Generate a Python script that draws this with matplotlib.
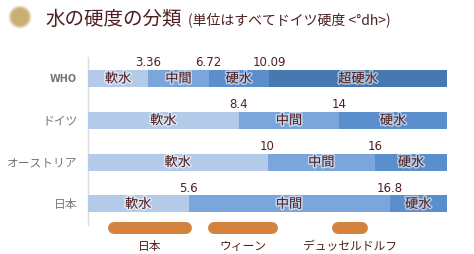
import matplotlib.pyplot as plt
import matplotlib.patheffects as pe
from matplotlib.patches import Circle

plt.rcParams['font.family'] = ['Noto Sans CJK JP', 'DejaVu Sans']

# データ(ドイツ硬度 °dh)
countries = ["WHO", "ドイツ", "オーストリア", "日本"]
breaks = [
    [3.36, 6.72, 10.09],
    [8.4, 14],
    [10, 16],
    [5.6, 16.8],
]
break_labels = [
    ["3.36", "6.72", "10.09"],
    ["8.4", "14"],
    ["10", "16"],
    ["5.6", "16.8"],
]
seg_names = [
    ["軟水", "中間", "硬水", "超硬水"],
    ["軟水", "中間", "硬水"],
    ["軟水", "中間", "硬水"],
    ["軟水", "中間", "硬水"],
]
x_max = 20

cities = ["日本", "ウィーン", "デュッセルドルフ"]
city_lo = [1.1, 6.7, 13.6]
city_hi = [5.8, 10.6, 15.6]

seg_colors = {"軟水": "#b3cbe9", "中間": "#7aa6dc", "硬水": "#5a8ecd", "超硬水": "#4678b2"}
text_col = "#4e1f22"
orange = "#d4823d"

W, H = 474, 255
fig = plt.figure(figsize=(W / 100, H / 100), dpi=100)

# axes: x 88..447 px, y 58..243 px
y_top, y_bot = -0.514, 3.9
row_px = 41.8
ax = fig.add_axes([88 / W, 1 - (58 + (y_bot - y_top) * row_px) / H,
                   (447 - 88) / W, (y_bot - y_top) * row_px / H])
ax.set_xlim(0, x_max)
ax.set_ylim(y_bot, y_top)
ax.axis("off")

ax.plot([0, 0], [y_top, 3.5], color="#dddddd", lw=1, clip_on=False, zorder=0)

glow = [pe.withStroke(linewidth=2.2, foreground="white", alpha=0.55)]
bh = 0.41
for i, name in enumerate(countries):
    edges = [0] + breaks[i] + [x_max]
    for j, seg in enumerate(seg_names[i]):
        lo, hi = edges[j], edges[j + 1]
        ax.barh(i, hi - lo, left=lo, height=bh, color=seg_colors[seg], linewidth=0)
        ax.text((lo + hi) / 2, i + 0.01, seg, ha="center", va="center",
                fontsize=9.5, color=text_col, path_effects=glow)
    for b, lab in zip(breaks[i], break_labels[i]):
        ax.text(b, i - bh / 2 - 0.04, lab, ha="center", va="bottom",
                fontsize=8.5, color=text_col, family=["DejaVu Sans"])
    if name == "WHO":
        ax.text(-0.6, i, name, ha="right", va="center", fontsize=7,
                fontweight="bold", color="#777777", family=["DejaVu Sans"])
    else:
        ax.text(-0.6, i, name, ha="right", va="center", fontsize=8.5, color="#777777")

# 都市の硬度範囲 (丸端の太線で描く)
cy = 3.58
cap_lw = 8.6          # points, about 12 px
cap_r = (cap_lw / 2) * (100 / 72) / ((447 - 88) / x_max)   # half width in data units
for c, lo, hi in zip(cities, city_lo, city_hi):
    ax.plot([lo + cap_r, hi - cap_r], [cy, cy], color=orange, lw=cap_lw,
            solid_capstyle="round", clip_on=False)
    ax.text((lo + hi) / 2, cy + 0.42, c, ha="center", va="center",
            fontsize=8.5, color=text_col, clip_on=False)

# タイトル
for r, a in [(12, 0.15), (11, 0.3), (10, 0.5), (9, 0.8), (7.5, 1.0)]:
    fig.patches.append(Circle((20 / 100, (H - 18) / 100), r / 100,
                              transform=fig.dpi_scale_trans,
                              facecolor="#c9af72", edgecolor="none", alpha=a))
fig.text(45 / W, 1 - 19 / H, "水の硬度の分類", ha="left", va="center",
         fontsize=14, color="#4e1f22")
fig.text(188 / W, 1 - 19.5 / H, "(単位はすべてドイツ硬度 <°dh>)", ha="left", va="center",
         fontsize=10, color="#4e1f22")

fig.savefig("out.png", dpi=100)
